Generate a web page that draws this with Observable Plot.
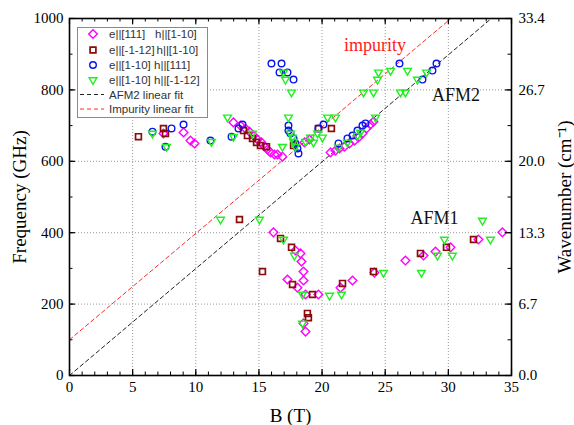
<!DOCTYPE html>
<html><head><meta charset="utf-8">
<script src="https://cdn.jsdelivr.net/npm/d3@7"></script>
<script src="https://cdn.jsdelivr.net/npm/@observablehq/plot@0.6"></script>
<style>body{margin:0;background:#fff}#chart{width:574px;height:425px}</style>
</head><body><div id="chart"></div>
<script>
// ---- data (B in tesla, frequency in GHz) ----
const diamB = [7.44,9.03,9.58,9.90,12.98,13.54,13.93,14.25,14.57,14.89,15.20,15.44,15.68,15.91,16.23,16.47,16.86,18.61,19.0,20.67,21.06,21.38,21.77,22.17,22.57,22.88,23.20,23.52,23.83,24.07,16.15,17.26,17.89,18.29,18.37,18.53,18.53,18.05,18.69,19.71,18.53,18.69,21.46,22.41,24.15,26.60,28.03,28.98,30.17,32.38,34.28];
const diamF = [678,681,658,650,709,700,692,683,672,661,653,641,633,625,619,619,613,653,661,625,630,636,641,650,658,667,678,692,703,711,401,269,350,342,319,291,266,246,227,227,146,123,246,266,288,322,336,347,359,381,401];
const sqB = [5.46,7.44,7.60,13.78,14.09,14.49,14.81,15.12,15.60,17.74,19.71,20.74,13.46,15.28,16.71,17.58,17.66,19.24,18.84,18.92,21.62,24.07,27.79,29.85,31.99];
const sqF = [669,692,678,686,672,664,653,644,641,644,692,692,437,291,384,359,255,227,174,162,258,291,342,359,381];
const circB = [6.57,8.08,9.03,7.60,11.16,12.83,13.38,13.70,15.99,16.79,16.63,17.26,17.74,17.34,17.34,17.50,17.74,17.89,18.05,18.13,19.71,20.11,21.30,22.01,22.41,22.80,23.20,23.44,26.13,27.95,28.74,29.06];
const circF = [683,692,703,641,658,669,692,703,874,874,849,849,829,700,686,678,664,650,636,622,692,703,650,664,672,686,700,706,874,829,854,874];
const triB = [6.57,7.68,11.24,12.51,12.98,14.49,16.86,17.34,17.50,17.66,17.74,17.89,18.69,19.08,19.32,19.64,20.03,20.43,21.06,21.30,22.01,22.80,23.04,24.23,16.94,17.10,17.58,24.47,25.42,26.76,24.39,23.28,24.07,26.21,26.60,27.55,28.27,11.96,15.04,16.94,17.81,18.45,20.59,21.54,18.45,24.86,27.87,29.14,29.69,30.32,32.70,33.33];
const triF = [678,641,655,723,669,678,641,723,678,667,655,641,655,667,653,678,667,723,723,639,653,672,681,723,849,829,793,849,854,854,829,793,793,793,793,829,849,437,437,381,336,227,224,227,146,288,288,336,381,336,434,381];

// linear fits (end points)
const afm2FitB = [0, 33.4];
const afm2FitF = [0, 1000];
const impFitB = [0, 30.2];
const impFitF = [100, 1000];

// tick values / labels
const xMajor = [0,5,10,15,20,25,30,35];
const xMinor = d3.range(0, 36, 1);
const yMajor = [0,200,400,600,800,1000];
const yMinor = d3.range(0, 1001, 100);
const ghzPerWavenumber = 29.98;

const annotB = [24.2, 30.6, 28.9];
const annotF = [924, 784, 440];
const annotText = ["impurity", "AFM2", "AFM1"];
const annotColor = ["#ff1a1a", "#111", "#111"];

// ---- symbols ----
const triDown = {draw(ctx, size){const s=Math.sqrt(size)*0.6824,t=s/2,u=s*Math.sqrt(3)/2;ctx.moveTo(0,s);ctx.lineTo(u,-t);ctx.lineTo(-u,-t);ctx.closePath();}};

const series = [
  {e:"e||[111]", h:"h||[1-10]", hx:155, B:diamB, F:diamF, symbol:d3.symbolDiamond2, color:"#ff00ff", r:3.9, sw:1.4},
  {e:"e||[-1-12]", h:"h||[1-10]", hx:156.5, B:sqB, F:sqF, symbol:d3.symbolSquare2, color:"#8b0a0a", r:3.7, sw:1.7},
  {e:"e||[1-10]", h:"h||[111]", hx:154, B:circB, F:circF, symbol:d3.symbolCircle, color:"#0a14f0", r:3.3, sw:1.4},
  {e:"e||[1-10]", h:"h||[-1-12]", hx:154, B:triB, F:triF, symbol:triDown, color:"#1ff01f", r:3.7, sw:1.4}
];
const fits = [
  {name:"AFM2 linear fit", B:afm2FitB, F:afm2FitF, color:"#222"},
  {name:"Impurity linear fit", B:impFitB, F:impFitF, color:"#ff2a2a"}
];

const W=574,H=425,mL=69,mR=63,mT=18,mB=50;
const iW=W-mL-mR, iH=H-mT-mB;
const serif = "'Liberation Serif','Times New Roman',serif";

const plot = Plot.plot({
  width:W, height:H, marginLeft:mL, marginRight:mR, marginTop:mT, marginBottom:mB,
  style:{fontFamily:serif, fontSize:"15px", background:"white", color:"black"},
  x:{domain:[0,35]}, y:{domain:[0,1000]},
  marks:[
    Plot.ruleX(xMajor.slice(1,-1), {x:d=>d, stroke:"#999", strokeDasharray:"1,2", strokeWidth:1}),
    Plot.ruleY(yMajor.slice(1,-1), {y:d=>d, stroke:"#999", strokeDasharray:"1,2", strokeWidth:1}),
    ...fits.map(f => Plot.line(f.B.map((b,i)=>({B:b,F:f.F[i]})), {x:"B", y:"F", stroke:f.color, strokeWidth:1, strokeDasharray:"4,3", clip:true})),
    ...series.map(s => Plot.dot(s.B.map((b,i)=>({B:b,F:s.F[i]})), {x:"B", y:"F", symbol:s.symbol, r:s.r, stroke:s.color, strokeWidth:s.sw, fill:"none"})),
    Plot.text(annotText.map((t,i)=>({t, B:annotB[i], F:annotF[i], c:annotColor[i]})), {x:"B", y:"F", text:"t", fill:d=>d.c, fontSize:18, fontFamily:serif}),
    // inward ticks
    Plot.tickX(xMajor, {x:d=>d, insetTop:iH-6, stroke:"black", strokeWidth:1.2}),
    Plot.tickX(xMinor, {x:d=>d, insetTop:iH-3.5, stroke:"black", strokeWidth:1}),
    Plot.tickX(xMajor, {x:d=>d, insetBottom:iH-6, stroke:"black", strokeWidth:1.2}),
    Plot.tickX(xMinor, {x:d=>d, insetBottom:iH-3.5, stroke:"black", strokeWidth:1}),
    Plot.tickY(yMajor, {y:d=>d, insetRight:iW-6, stroke:"black", strokeWidth:1.2}),
    Plot.tickY(yMinor, {y:d=>d, insetRight:iW-3.5, stroke:"black", strokeWidth:1}),
    Plot.tickY(yMajor, {y:d=>d, insetLeft:iW-6, stroke:"black", strokeWidth:1.2}),
    Plot.tickY(yMinor, {y:d=>d, insetLeft:iW-3.5, stroke:"black", strokeWidth:1}),
    Plot.frame({stroke:"black", strokeWidth:1.6}),
    Plot.axisX({ticks:xMajor, tickSize:0, tickPadding:6, label:null, tickFormat:d=>String(d)}),
    Plot.axisY({anchor:"left", ticks:yMajor, tickSize:0, tickPadding:6, label:null, tickFormat:d=>String(d)}),
    Plot.axisY({anchor:"right", ticks:yMajor, tickSize:0, tickPadding:7, label:null, tickFormat:d=>(d/ghzPerWavenumber).toFixed(1)}),
    Plot.text(["Frequency (GHz)"], {frameAnchor:"left", dx:-50, rotate:-90, textAnchor:"middle", lineAnchor:"middle", fontSize:19, fontFamily:serif, fill:"black"}),
    Plot.text(["Wavenumber (cm⁻¹)"], {frameAnchor:"right", dx:53, rotate:-90, textAnchor:"middle", lineAnchor:"middle", fontSize:19, fontFamily:serif, fill:"black"}),
    Plot.text(["B (T)"], {frameAnchor:"bottom", dy:40, textAnchor:"middle", lineAnchor:"middle", fontSize:19, fontFamily:serif, fill:"black"})
  ]
});

// ---- legend inside the plot ----
const svg = d3.select(plot);
const lg = svg.append("g").attr("font-family","'Liberation Sans',Arial,sans-serif").attr("font-size","11.5px").attr("text-anchor","start");
lg.append("rect").attr("x",77.5).attr("y",27.5).attr("width",130).attr("height",90).attr("fill","white").attr("stroke","#8a8a8a").attr("stroke-width",1);
const rows = [34, 50, 65, 80, 94.5, 109];
series.forEach((s,i)=>{
  const y = rows[i];
  lg.append("path").attr("transform",`translate(93,${y})`).attr("d", d3.symbol().type(s.symbol).size(Math.PI*s.r*s.r)()).attr("fill","none").attr("stroke",s.color).attr("stroke-width",s.sw);
  lg.append("text").attr("x",109).attr("y",y).attr("dy","0.35em").attr("text-anchor","start").attr("fill","#333").text(s.e);
  lg.append("text").attr("x",s.hx).attr("y",y).attr("dy","0.35em").attr("text-anchor","start").attr("fill","#333").text(s.h);
});
fits.forEach((f,j)=>{
  const y = rows[4+j];
  lg.append("line").attr("x1",80).attr("x2",104).attr("y1",y).attr("y2",y).attr("stroke",f.color).attr("stroke-dasharray","4,3").attr("stroke-width",1);
  lg.append("text").attr("x",109).attr("y",y).attr("dy","0.35em").attr("text-anchor","start").attr("fill","#333").text(f.name);
});

document.getElementById("chart").appendChild(plot);
</script>
</body></html>
